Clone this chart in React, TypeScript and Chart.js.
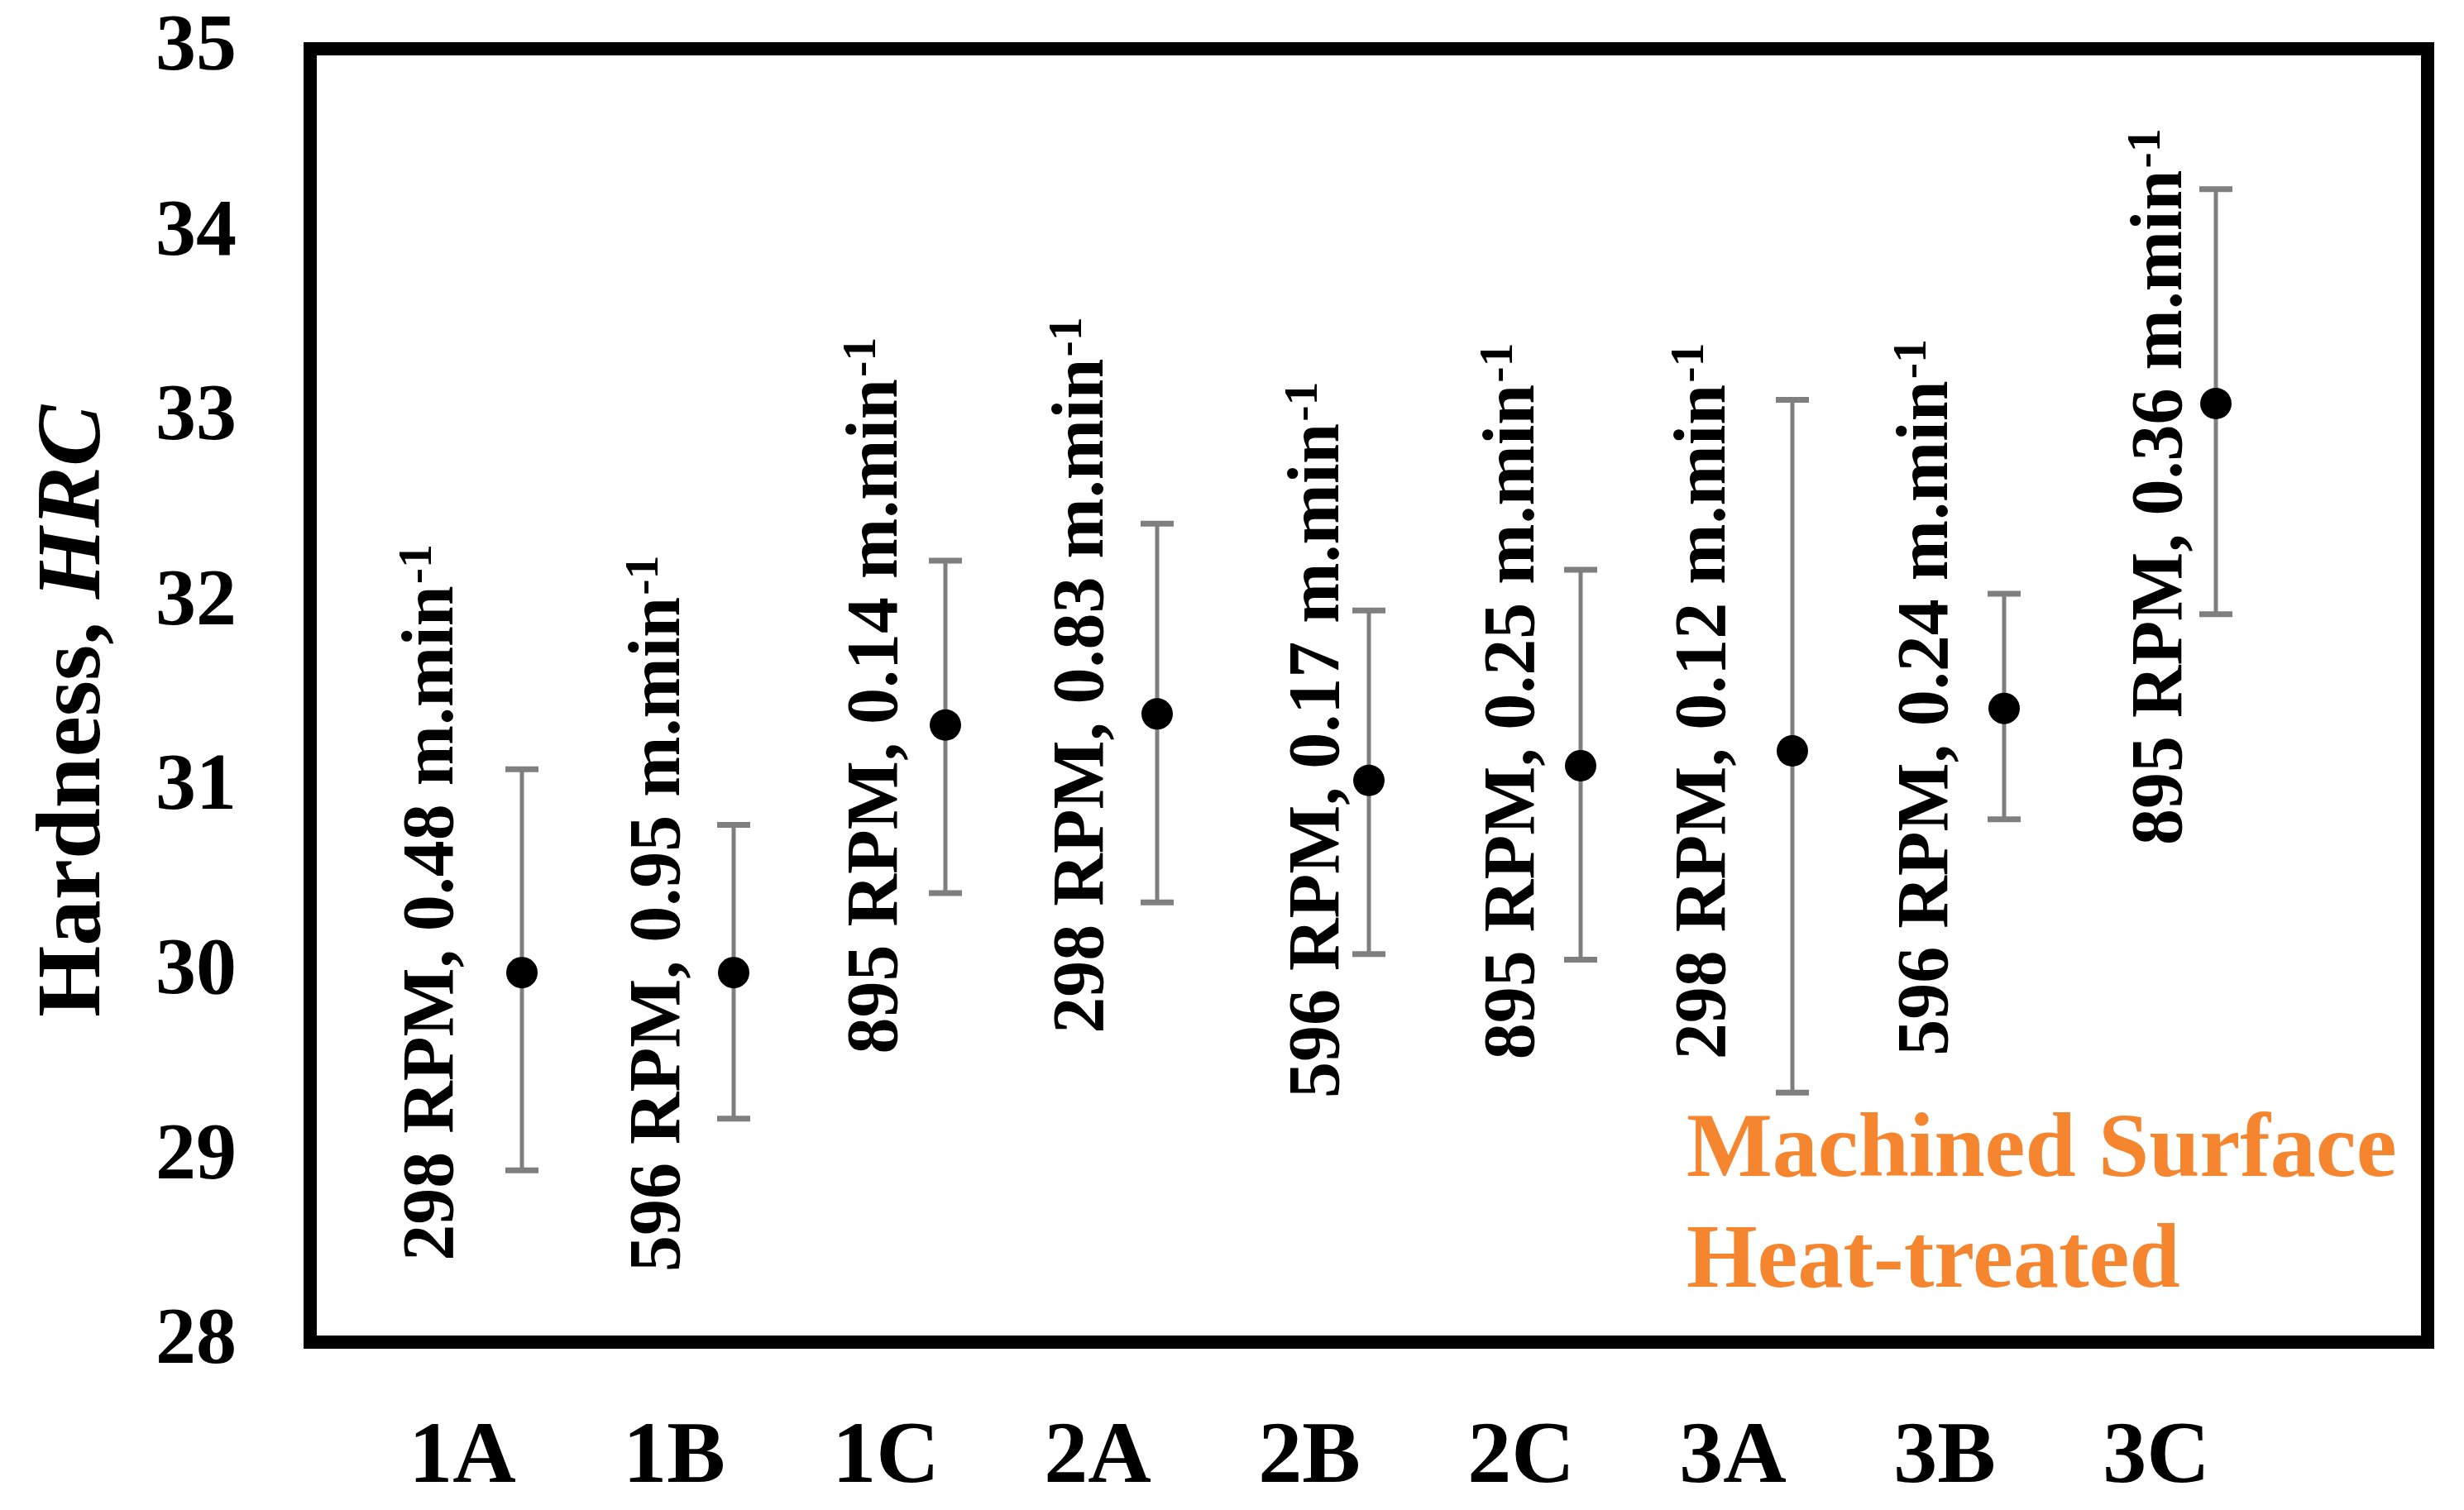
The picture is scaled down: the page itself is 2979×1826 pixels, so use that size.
import React, { useEffect, useRef } from "react";
import { Chart, registerables } from "chart.js";

Chart.register(...registerables);

// ---- data ----
const categories = ["1A", "1B", "1C", "2A", "2B", "2C", "3A", "3B", "3C"];
const positions = [1, 2, 3, 4, 5, 6, 7, 8, 9];
const hardness = [30.0, 30.0, 31.34, 31.4, 31.04, 31.12, 31.2, 31.43, 33.08];
const upperErr = [31.1, 30.8, 32.23, 32.43, 31.96, 32.18, 33.1, 32.05, 34.24];
const lowerErr = [28.93, 29.21, 30.43, 30.38, 30.1, 30.07, 29.35, 30.83, 31.94];
const rpm = ["298", "596", "895", "298", "596", "895", "298", "596", "895"];
const speed = ["0.48", "0.95", "0.14", "0.83", "0.17", "0.25", "0.12", "0.24", "0.36"];
// annotation anchors in data units (x = baseline of rotated text, y = start of text)
const labelX = [0.672, 1.742, 2.77, 3.742, 4.855, 5.777, 6.68, 7.73, 8.836];
const labelStart = [28.44, 28.38, 29.56, 29.67, 29.32, 29.53, 29.53, 29.55, 30.69];
const noteLines = ["Machined Surface", "Heat-treated"];
const noteX = 6.5;
const noteY = [28.9, 28.3];
const yMin = 28;
const yMax = 35;
const xMin = 0;
const xMax = 10;

const SERIF = '"Liberation Serif", "Times New Roman", Times, serif';

const overlay = {
  id: "overlay",
  beforeDatasetsDraw(chart: any) {
    const { ctx } = chart;
    const xs = chart.scales.x;
    const ys = chart.scales.y;
    ctx.save();
    ctx.strokeStyle = "#7f7f7f";
    ctx.lineCap = "butt";
    for (let i = 0; i < positions.length; i++) {
      const px = xs.getPixelForValue(positions[i]);
      const top = ys.getPixelForValue(upperErr[i]);
      const bot = ys.getPixelForValue(lowerErr[i]);
      ctx.lineWidth = 5;
      ctx.beginPath();
      ctx.moveTo(px, top);
      ctx.lineTo(px, bot);
      ctx.stroke();
      ctx.lineWidth = 7;
      ctx.beginPath();
      ctx.moveTo(px - 20, top);
      ctx.lineTo(px + 20, top);
      ctx.moveTo(px - 20, bot);
      ctx.lineTo(px + 20, bot);
      ctx.stroke();
    }
    ctx.restore();
  },
  afterDatasetsDraw(chart: any) {
    const { ctx, chartArea: ca } = chart;
    const xs = chart.scales.x;
    const ys = chart.scales.y;
    ctx.save();
    // frame
    ctx.strokeStyle = "#000";
    ctx.lineWidth = 16;
    ctx.lineJoin = "miter";
    ctx.strokeRect(ca.left, ca.top, ca.right - ca.left, ca.bottom - ca.top);

    // rotated condition labels
    ctx.fillStyle = "#000";
    ctx.textBaseline = "alphabetic";
    ctx.textAlign = "left";
    for (let i = 0; i < positions.length; i++) {
      const x = xs.getPixelForValue(labelX[i]);
      const y = ys.getPixelForValue(labelStart[i]);
      ctx.save();
      ctx.translate(x, y);
      ctx.rotate(-Math.PI / 2);
      ctx.font = `bold 88px ${SERIF}`;
      const main = `${rpm[i]} RPM, ${speed[i]} m.min`;
      ctx.fillText(main, 0, 0);
      const w = ctx.measureText(main).width;
      ctx.font = `bold 58px ${SERIF}`;
      ctx.fillText("-1", w + 2, -26);
      ctx.restore();
    }

    // orange note
    ctx.fillStyle = "#F5852F";
    ctx.font = `bold 110px ${SERIF}`;
    for (let k = 0; k < noteLines.length; k++) {
      ctx.fillText(noteLines[k], xs.getPixelForValue(noteX), ys.getPixelForValue(noteY[k]));
    }

    // y-axis title
    ctx.fillStyle = "#000";
    const part1 = "Hardness, ";
    const part2 = "HRC";
    ctx.font = `bold 111px ${SERIF}`;
    const w1 = ctx.measureText(part1).width;
    ctx.font = `italic bold 111px ${SERIF}`;
    const w2 = ctx.measureText(part2).width;
    const cy = (ca.top + ca.bottom) / 2 + 19;
    ctx.save();
    ctx.translate(ca.left - 255, cy + (w1 + w2) / 2);
    ctx.rotate(-Math.PI / 2);
    ctx.font = `bold 111px ${SERIF}`;
    ctx.fillText(part1, 0, 0);
    ctx.font = `italic bold 111px ${SERIF}`;
    ctx.fillText(part2, w1, 0);
    ctx.restore();

    ctx.restore();
  },
};

export default function App() {
  const ref = useRef<HTMLCanvasElement | null>(null);
  useEffect(() => {
    if (!ref.current) return;
    const chart = new Chart(ref.current, {
      type: "scatter",
      data: {
        datasets: [
          {
            data: positions.map((p, i) => ({ x: p, y: hardness[i] })),
            pointRadius: 19,
            pointHoverRadius: 19,
            backgroundColor: "#000",
            borderColor: "#000",
            borderWidth: 0,
            showLine: false,
          },
        ],
      },
      options: {
        animation: false,
        responsive: false,
        devicePixelRatio: 1,
        layout: { padding: { top: 59, right: 44, bottom: 0, left: 0 } },
        plugins: { legend: { display: false }, tooltip: { enabled: false } },
        scales: {
          x: {
            type: "linear",
            min: xMin,
            max: xMax,
            grid: { display: false, drawTicks: false },
            border: { display: false },
            ticks: {
              stepSize: 1,
              autoSkip: false,
              maxRotation: 0,
              minRotation: 0,
              labelOffset: -72,
              padding: 78,
              color: "#000",
              font: { family: SERIF, size: 106, weight: "bold", lineHeight: 1.2 },
              callback: (v: any) => {
                const idx = positions.indexOf(Number(v));
                return idx >= 0 ? categories[idx] : "";
              },
            },
            afterFit: (s: any) => {
              s.height = 203;
              s.paddingLeft = 0;
              s.paddingRight = 0;
            },
          },
          y: {
            min: yMin,
            max: yMax,
            grid: { display: false, drawTicks: false },
            border: { display: false },
            ticks: {
              stepSize: 1,
              padding: 89,
              color: "#000",
              font: { family: SERIF, size: 98, weight: "bold" },
            },
            afterFit: (s: any) => {
              s.width = 375;
              s.paddingTop = 0;
              s.paddingBottom = 0;
            },
          },
        },
      },
      plugins: [overlay],
    } as any);
    return () => chart.destroy();
  }, []);
  return (
    <canvas
      ref={ref}
      width={2979}
      height={1826}
      style={{ position: "fixed", left: 0, top: 0, width: 2979, height: 1826, display: "block", background: "#fff" }}
    />
  );
}
